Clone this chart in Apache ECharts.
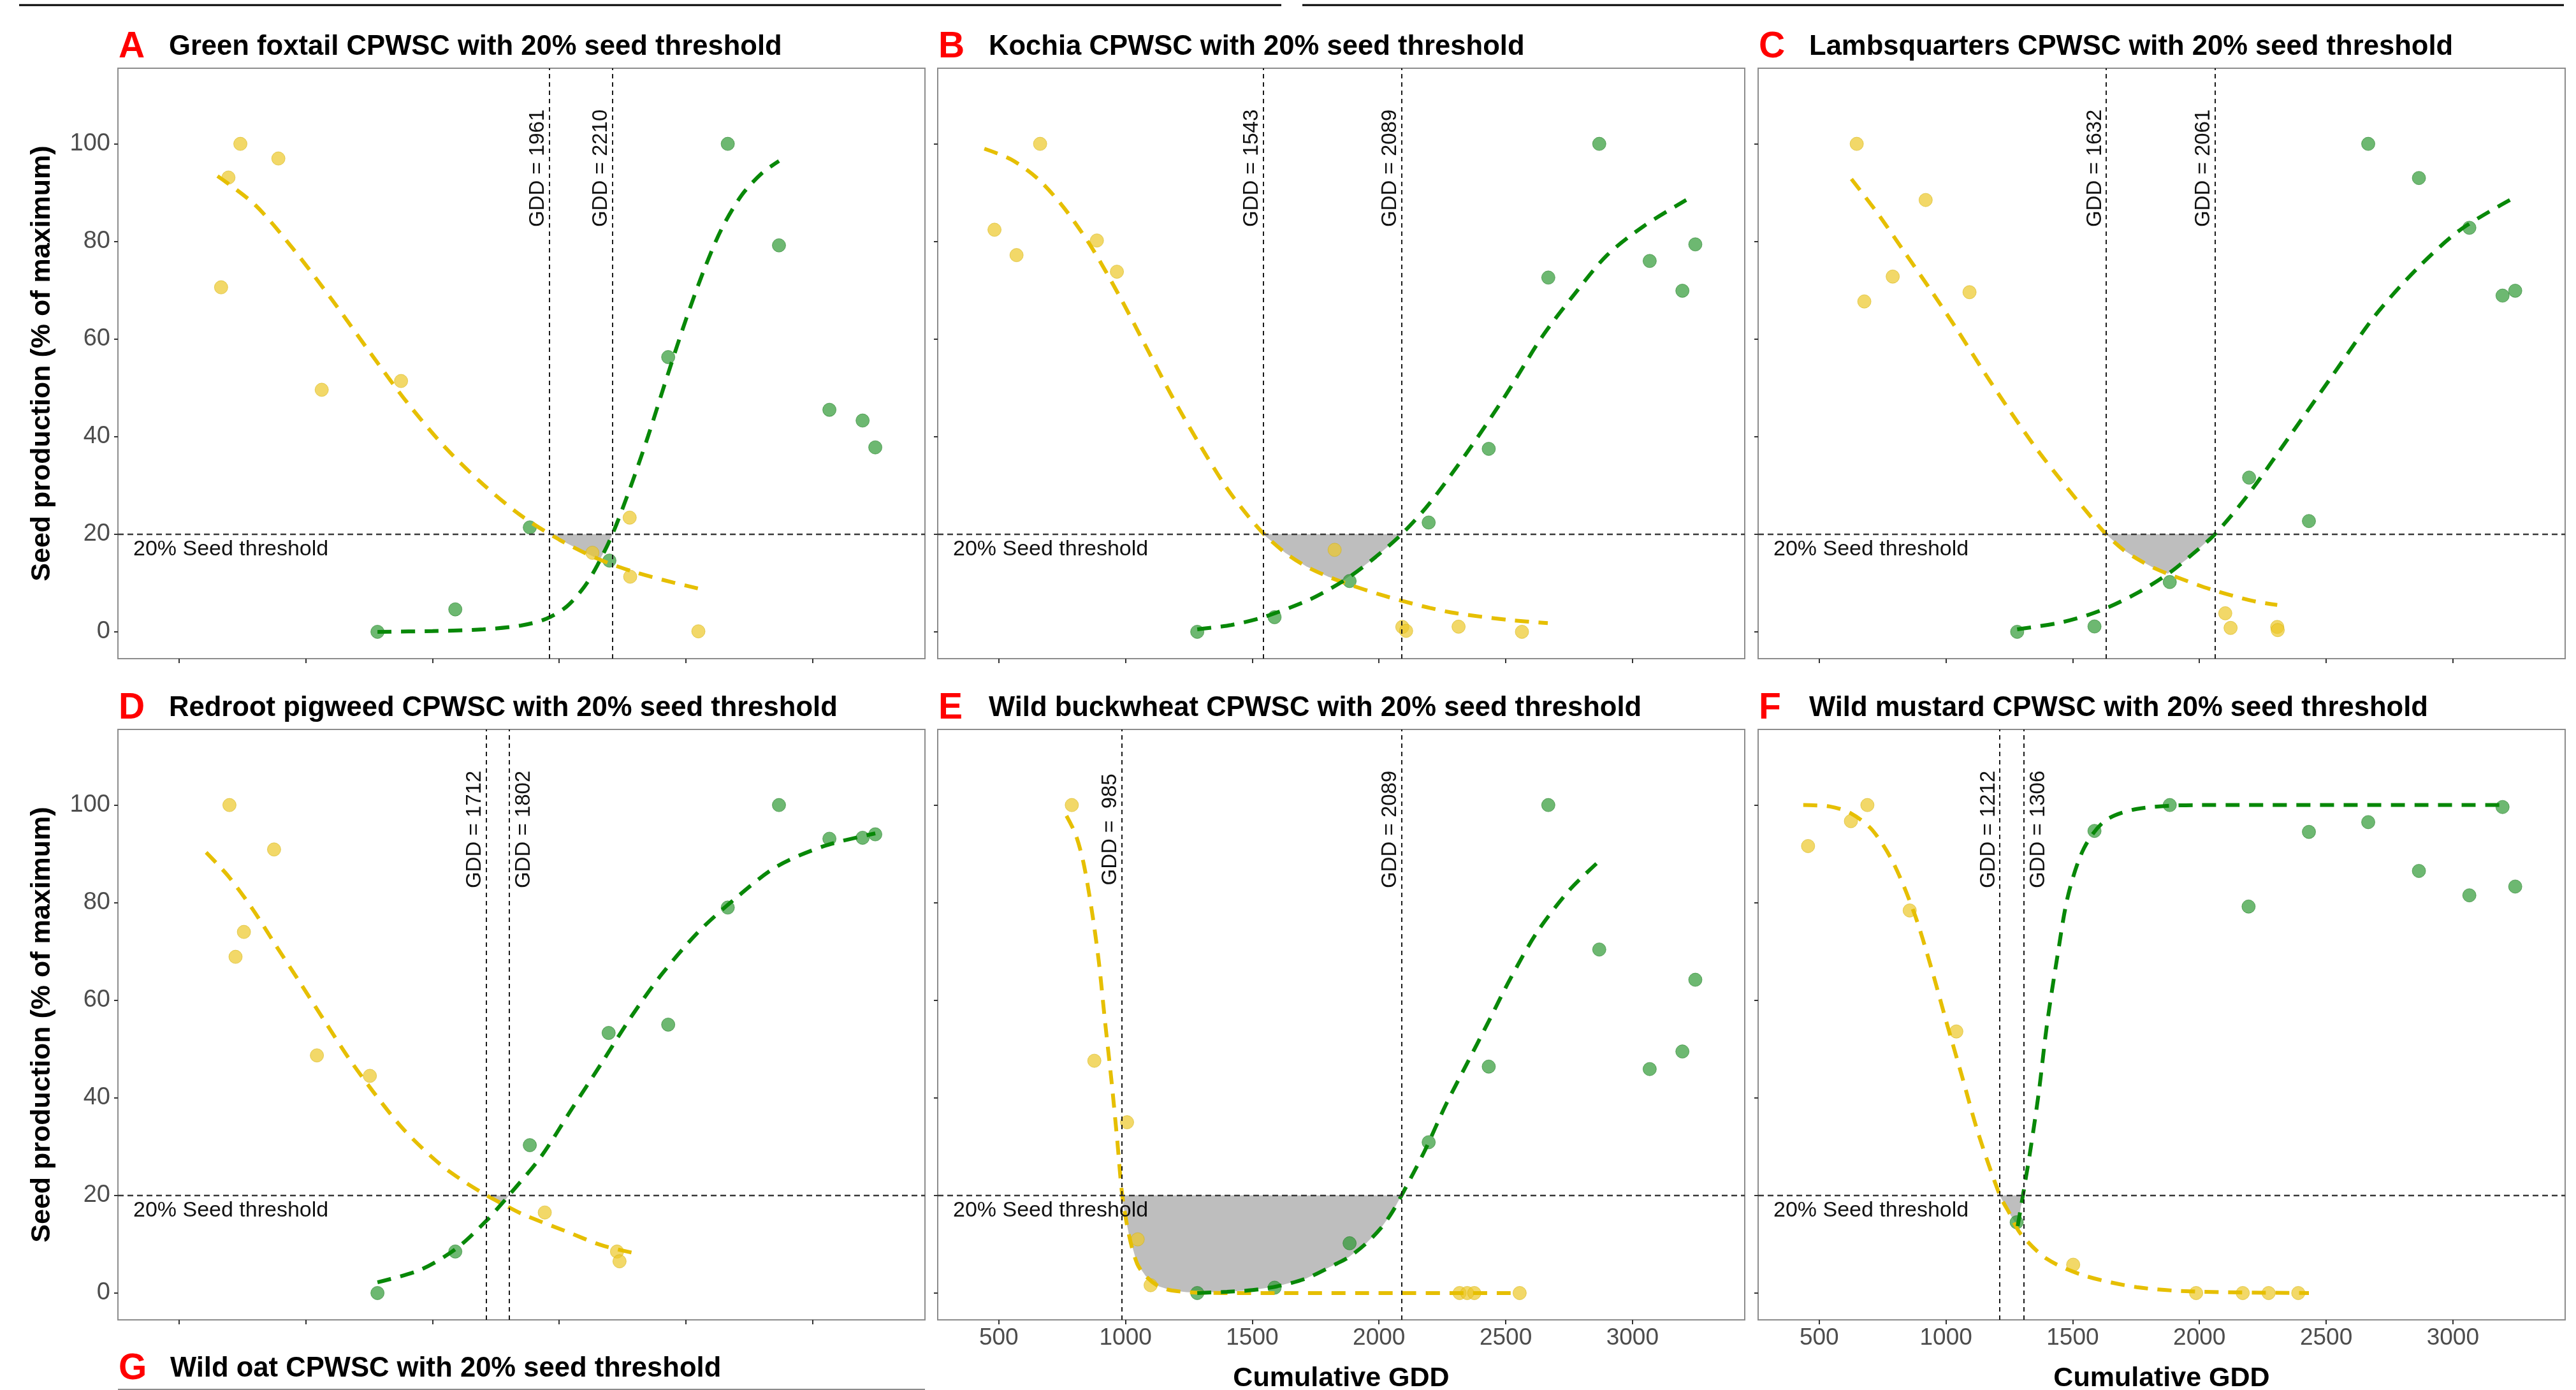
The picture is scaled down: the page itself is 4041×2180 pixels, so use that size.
<!DOCTYPE html>
<html>
<head>
<meta charset="utf-8">
<script src="https://cdn.jsdelivr.net/npm/echarts@6/dist/echarts.min.js"></script>
<style>
  html, body { margin: 0; padding: 0; background: #fff; }
  #chart { width: 4041px; height: 2180px; }
</style>
</head>
<body>
<div id="chart"></div>
<script>
// ---------------- data ----------------
const panelTags = ['A', 'B', 'C', 'D', 'E', 'F'];
const panelTitles = [
  'Green foxtail CPWSC with 20% seed threshold',
  'Kochia CPWSC with 20% seed threshold',
  'Lambsquarters CPWSC with 20% seed threshold',
  'Redroot pigweed CPWSC with 20% seed threshold',
  'Wild buckwheat CPWSC with 20% seed threshold',
  'Wild mustard CPWSC with 20% seed threshold'
];
const extraTag = 'G';
const extraTitle = 'Wild oat CPWSC with 20% seed threshold';

const xTickValues = [500, 1000, 1500, 2000, 2500, 3000];
const yTickValues = [0, 20, 40, 60, 80, 100];
const thresholdValue = 20;
const thresholdText = '20% Seed threshold';
const xAxisTitle = 'Cumulative GDD';
const yAxisTitle = 'Seed production (% of maximum)';

// GDD window limits
const gddA = [1961, 2210];
const gddB = [1543, 2089];
const gddC = [1632, 2061];
const gddD = [1712, 1802];
const gddE = [985, 2089];
const gddF = [1212, 1306];

// observed points
const yellowObsA = [[666,70.6],[695,93.1],[742,100],[892,97.0],[1063,49.6],[1376,51.4],[2131,16.2],[2278,23.4],[2280,11.3],[2549,0.1]];
const greenObsA  = [[1283,0],[1590,4.6],[1884,21.4],[2198,14.6],[2430,56.3],[2665,100],[2867,79.2],[3066,45.5],[3197,43.3],[3247,37.8]];
const yellowObsB = [[483,82.4],[570,77.2],[663,100],[887,80.2],[966,73.8],[1825,16.8],[2092,1.0],[2107,0.2],[2314,1.05],[2564,0]];
const greenObsB  = [[1283,0],[1588,3.0],[1884,10.4],[2196,22.4],[2433,37.5],[2668,72.6],[2869,100],[3068,76.0],[3197,69.9],[3248,79.4]];
const yellowObsC = [[648,100],[678,67.7],[790,72.8],[920,88.5],[1093,69.6],[2102,3.8],[2123,0.8],[2307,1.0],[2309,0.35]];
const greenObsC  = [[1281,0],[1586,1.1],[1883,10.2],[2196,31.6],[2432,22.7],[2666,100],[2866,93.0],[3065,82.8],[3196,68.9],[3246,69.9]];
const yellowObsD = [[699,100],[723,68.9],[756,74.0],[875,90.9],[1044,48.7],[1253,44.5],[1943,16.5],[2228,8.5],[2238,6.5]];
const greenObsD  = [[1283,0],[1590,8.5],[1884,30.3],[2195,53.3],[2430,55.0],[2665,79.0],[2867,100],[3066,93.1],[3197,93.3],[3247,94.0]];
const yellowObsE = [[788,100],[877,47.6],[1006,35.0],[1048,11.0],[1099,1.6],[2318,0],[2348,0],[2376,0],[2555,0]];
const greenObsE  = [[1283,0],[1588,1.1],[1884,10.2],[2196,30.9],[2433,46.4],[2668,100],[2869,70.4],[3068,45.9],[3197,49.5],[3248,64.2]];
const yellowObsF = [[456,91.6],[625,96.7],[690,100],[857,78.4],[1041,53.6],[1502,5.8],[1987,0],[2171,0],[2273,0],[2390,0]];
const greenObsF  = [[1279,14.5],[1586,94.7],[1883,100],[2194,79.2],[2432,94.5],[2666,96.5],[2866,86.5],[3065,81.5],[3196,99.6],[3246,83.3]];

// fitted curves
const yellowFitA = [[652,93.4],[800,87.5],[950,78.5],[1100,68.3],[1250,57.5],[1400,47.0],[1550,37.8],[1700,30.2],[1850,23.8],[2000,18.9],[2150,15.0],[2300,12.2],[2450,10.1],[2547,8.9]];
const greenFitA  = [[1283,0],[1500,0.15],[1700,0.5],[1850,1.3],[1950,2.7],[2030,5.2],[2100,9.3],[2150,13.6],[2210,20],[2280,29.5],[2350,40],[2430,53],[2500,64],[2570,74],[2640,82.5],[2720,89.5],[2800,94],[2867,96.5]];
const yellowFitB = [[443,99],[549,96.8],[655,92.8],[760,86.7],[866,78.8],[972,69.2],[1078,58.7],[1184,48.2],[1290,38.6],[1395,29.8],[1470,24.6],[1543,20.2],[1630,16.2],[1713,13.4],[1800,11.3],[1882,9.7],[2000,7.7],[2094,6.3],[2200,4.9],[2305,3.8],[2517,2.4],[2666,1.8]];
const greenFitB  = [[1283,0.5],[1417,1.4],[1544,3.0],[1713,6.3],[1800,8.6],[1882,11.2],[1988,15.4],[2089,20.0],[2199,26.3],[2348,36.8],[2496,48.2],[2644,60.5],[2771,69.2],[2898,77.1],[3046,83.2],[3212,88.5]];
const yellowFitC = [[627,92.8],[730,85.8],[834,78.0],[939,70.1],[1043,62.0],[1147,53.5],[1252,45.3],[1356,37.6],[1461,30.6],[1565,24.0],[1632,20],[1700,16.8],[1753,15.0],[1820,13.1],[1885,11.7],[2045,8.7],[2213,6.3],[2307,5.5]];
const greenFitC  = [[1281,0.5],[1461,2.0],[1607,4.3],[1753,7.9],[1885,12.2],[1970,15.8],[2061,20],[2192,28.1],[2359,40.3],[2526,52.6],[2693,64.8],[2860,74.5],[3027,82.3],[3225,88.5]];
const yellowFitD = [[607,90.3],[695,85.4],[790,78.7],[885,71.0],[980,63.4],[1075,55.7],[1170,48.1],[1264,41.4],[1383,33.7],[1525,26.6],[1620,23.0],[1711,20.1],[1775,18.3],[1858,16.1],[2024,12.7],[2167,9.8],[2285,8.3]];
const greenFitD  = [[1283,2.2],[1454,4.8],[1596,9.2],[1716,15.0],[1775,18.4],[1803,20.1],[1929,28.0],[2048,37.6],[2167,47.1],[2285,56.7],[2404,65.3],[2547,73.9],[2689,80.6],[2855,87.3],[3045,91.6],[3247,94.2]];
const yellowFitE = [[767,97.8],[803,94.0],[834,88.2],[866,78.7],[894,68.2],[919,55.7],[945,43.3],[968,30.9],[987,20.1],[1014,11.8],[1046,6.0],[1081,3.4],[1130,1.4],[1184,0.5],[1300,0.05],[1395,0],[1925,0],[2555,0]];
const greenFitE  = [[1283,0],[1400,0.25],[1501,0.6],[1600,1.4],[1713,3.0],[1832,6.0],[1882,7.4],[1950,10.2],[2009,13.4],[2050,16.4],[2089,20.0],[2179,29.0],[2263,38.5],[2348,47.1],[2433,55.7],[2517,64.3],[2623,73.9],[2750,82.5],[2862,88.2]];
const yellowFitF = [[437,100],[542,99.7],[625,98.3],[709,94.9],[792,88.2],[876,77.7],[939,67.2],[1001,55.7],[1064,44.3],[1127,32.8],[1212,20.1],[1250,16.4],[1294,12.2],[1398,7.0],[1544,3.6],[1753,1.2],[1983,0.3],[2432,0]];
const greenFitF  = [[1283,13.7],[1304,20.1],[1335,29.9],[1367,41.4],[1398,54.8],[1440,69.1],[1482,81.5],[1544,91.1],[1628,96.8],[1753,99.2],[1983,100],[3196,100]];

// shaded control windows (outline)
const windowA = [[1961,20],[2210,20],[2180,16.7],[2160,14.8],[2100,16.3],[2040,17.9]];
const windowB = [[1543,20],[2089,20],[2040,17.7],[1988,15.4],[1930,13.1],[1853,10.3],[1800,11.3],[1713,13.4],[1630,16.2]];
const windowC = [[1632,20],[2061,20],[2010,17.6],[1950,14.9],[1875,11.9],[1820,13.1],[1753,15.0],[1700,16.8]];
const windowD = [[1712,20],[1802,20],[1775,18.3],[1745,19.2]];
const windowE = [[985,20],[2089,20],[2050,16.4],[2009,13.4],[1950,10.2],[1882,7.4],[1832,6.0],[1713,3.0],[1600,1.4],[1501,0.6],[1400,0.25],[1283,0.05],[1240,0.2],[1184,0.5],[1130,1.4],[1081,3.4],[1046,6.0],[1014,11.8],[1000,15.5]];
const windowF = [[1212,20],[1306,20],[1295,17.5],[1283,13.7],[1250,16.4]];

const gddAll = [gddA, gddB, gddC, gddD, gddE, gddF];
const yellowObsAll = [yellowObsA, yellowObsB, yellowObsC, yellowObsD, yellowObsE, yellowObsF];
const greenObsAll = [greenObsA, greenObsB, greenObsC, greenObsD, greenObsE, greenObsF];
const yellowFitAll = [yellowFitA, yellowFitB, yellowFitC, yellowFitD, yellowFitE, yellowFitF];
const greenFitAll = [greenFitA, greenFitB, greenFitC, greenFitD, greenFitE, greenFitF];
const windowAll = [windowA, windowB, windowC, windowD, windowE, windowF];

// ---------------- layout & style ----------------
const FONT = '"Liberation Sans", Arial, Helvetica, sans-serif';
const X_MIN = 259, X_MAX = 3443, Y_MIN = -5.5, Y_MAX = 115.5;
const GRID_LEFTS = [185, 1471, 2758];
const GRID_TOPS = [107, 1144];
const GRID_W = 1266, GRID_H = 926;
const ROW_TITLE_Y = [74, 1111, 2147];
const LABEL_Y = 95;

const YELLOW_PT = 'rgba(236,200,40,0.7)';
const YELLOW_PT_EDGE = 'rgba(212,176,10,0.55)';
const GREEN_PT = 'rgba(40,150,45,0.68)';
const GREEN_PT_EDGE = 'rgba(25,120,30,0.55)';
const YELLOW_LINE = '#E6BF00';
const GREEN_LINE = '#088808';

const grids = [], xAxes = [], yAxes = [], series = [];
const plainNum = v => String(v);

for (let gi = 0; gi < 6; gi++) {
  const row = Math.floor(gi / 3), col = gi % 3;
  grids.push({
    left: GRID_LEFTS[col], top: GRID_TOPS[row], width: GRID_W, height: GRID_H,
    show: true, borderColor: '#8c8c8c', borderWidth: 2, backgroundColor: 'transparent',
    containLabel: false
  });
  xAxes.push({
    type: 'value', gridIndex: gi, min: X_MIN, max: X_MAX, position: 'bottom',
    axisLine: { show: false, onZero: false }, splitLine: { show: false },
    axisTick: { show: true, inside: false, length: 7, lineStyle: { color: '#333', width: 2 }, customValues: xTickValues },
    axisLabel: { show: gi >= 4, customValues: xTickValues, formatter: plainNum,
      fontSize: 37, fontFamily: FONT, color: '#4d4d4d', margin: 10 }
  });
  yAxes.push({
    type: 'value', gridIndex: gi, min: Y_MIN, max: Y_MAX, position: 'left',
    axisLine: { show: false, onZero: false }, splitLine: { show: false },
    axisTick: { show: true, inside: false, length: 6, lineStyle: { color: '#333', width: 2 }, customValues: yTickValues },
    axisLabel: { show: col === 0, customValues: yTickValues, formatter: plainNum,
      fontSize: 38, fontFamily: FONT, color: '#4d4d4d', margin: 12 }
  });

  const win = windowAll[gi];
  // shaded window
  series.push({
    type: 'custom', xAxisIndex: gi, yAxisIndex: gi, z: 1, silent: true,
    data: [win[0]],
    renderItem: function (params, api) {
      return {
        type: 'polygon',
        shape: { points: win.map(p => api.coord(p)), smooth: 0 },
        style: { fill: '#BEBEBE' }
      };
    }
  });

  const gdd = gddAll[gi];
  // yellow points + reference lines
  series.push({
    type: 'scatter', xAxisIndex: gi, yAxisIndex: gi, z: 2,
    data: yellowObsAll[gi], symbolSize: 21,
    itemStyle: { color: YELLOW_PT, borderColor: YELLOW_PT_EDGE, borderWidth: 1, opacity: 1 },
    markLine: {
      silent: true, symbol: ['none', 'none'], animation: false,
      label: { show: false },
      data: [
        { yAxis: thresholdValue, lineStyle: { type: [9, 6], color: '#3a3a3a', width: 2.4 } },
        { xAxis: gdd[0], lineStyle: { type: [7, 6], color: '#1a1a1a', width: 2 } },
        { xAxis: gdd[1], lineStyle: { type: [7, 6], color: '#1a1a1a', width: 2 } }
      ]
    }
  });
  series.push({
    type: 'scatter', xAxisIndex: gi, yAxisIndex: gi, z: 2,
    data: greenObsAll[gi], symbolSize: 21,
    itemStyle: { color: GREEN_PT, borderColor: GREEN_PT_EDGE, borderWidth: 1, opacity: 1 }
  });
  // fitted curves
  series.push({
    type: 'line', xAxisIndex: gi, yAxisIndex: gi, z: 3,
    data: yellowFitAll[gi], smooth: 0.3, showSymbol: false, symbol: 'none',
    lineStyle: { color: YELLOW_LINE, width: 6, type: [22, 15] }
  });
  series.push({
    type: 'line', xAxisIndex: gi, yAxisIndex: gi, z: 3,
    data: greenFitAll[gi], smooth: 0.3, showSymbol: false, symbol: 'none',
    lineStyle: { color: GREEN_LINE, width: 6, type: [22, 15] }
  });
  // rotated GDD labels
  const close = Math.abs(gdd[1] - gdd[0]) < 200;
  series.push({
    type: 'custom', xAxisIndex: gi, yAxisIndex: gi, z: 5, silent: true,
    data: gdd.map((g, i) => [g, LABEL_Y, i]),
    renderItem: function (params, api) {
      const g = api.value(0), i = api.value(2);
      const p = api.coord([g, api.value(1)]);
      const right = close && i === 1;
      return {
        type: 'text', x: p[0] + (right ? 7 : -1), y: p[1], rotation: Math.PI / 2,
        style: {
          text: 'GDD = ' + String(g).padStart(4, ' '),
          fontSize: 33, fontFamily: FONT, fill: '#111',
          textAlign: 'center', align: 'center',
          textVerticalAlign: right ? 'top' : 'bottom', verticalAlign: right ? 'top' : 'bottom'
        }
      };
    }
  });
  // threshold caption
  series.push({
    type: 'custom', xAxisIndex: gi, yAxisIndex: gi, z: 5, silent: true,
    data: [[X_MIN, thresholdValue]],
    renderItem: function (params, api) {
      const p = api.coord([api.value(0), api.value(1)]);
      return {
        type: 'text', x: p[0] + 24, y: p[1] + 24,
        style: {
          text: thresholdText, fontSize: 34, fontFamily: FONT, fill: '#111',
          textAlign: 'left', align: 'left', textVerticalAlign: 'middle', verticalAlign: 'middle'
        }
      };
    }
  });
}

// ---------------- free text / decorations ----------------
const graphics = [];
function addText(x, y, text, size, weight, color, align, vAlign, rotation) {
  graphics.push({
    type: 'text', x: x, y: y, rotation: rotation || 0, silent: true,
    style: {
      text: text, fontSize: size, fontWeight: weight, fontFamily: FONT, fill: color,
      textAlign: align, align: align, textVerticalAlign: vAlign, verticalAlign: vAlign
    }
  });
}
for (let gi = 0; gi < 6; gi++) {
  const row = Math.floor(gi / 3), col = gi % 3;
  const L = GRID_LEFTS[col];
  addText(L + 1, ROW_TITLE_Y[row], panelTags[gi], 57, 'bold', '#FF0000', 'left', 'middle');
  addText(L + 80, ROW_TITLE_Y[row], panelTitles[gi], 43.6, 'bold', '#000', 'left', 'middle');
}
addText(GRID_LEFTS[0] + 1, ROW_TITLE_Y[2], extraTag, 57, 'bold', '#FF0000', 'left', 'middle');
addText(GRID_LEFTS[0] + 82, ROW_TITLE_Y[2], extraTitle, 43.6, 'bold', '#000', 'left', 'middle');

// axis titles
addText(66, GRID_TOPS[0] + GRID_H / 2, yAxisTitle, 43, 'bold', '#000', 'center', 'middle', Math.PI / 2);
addText(66, GRID_TOPS[1] + GRID_H / 2, yAxisTitle, 43, 'bold', '#000', 'center', 'middle', Math.PI / 2);
addText(GRID_LEFTS[1] + GRID_W / 2, 2162, xAxisTitle, 43, 'bold', '#000', 'center', 'middle');
addText(GRID_LEFTS[2] + GRID_W / 2, 2162, xAxisTitle, 43, 'bold', '#000', 'center', 'middle');

// page rules at the top and the top edge of panel G
graphics.push({ type: 'line', silent: true, shape: { x1: 30, y1: 8, x2: 2010, y2: 8 }, style: { stroke: '#000', lineWidth: 3 } });
graphics.push({ type: 'line', silent: true, shape: { x1: 2043, y1: 8, x2: 4022, y2: 8 }, style: { stroke: '#000', lineWidth: 3 } });
graphics.push({ type: 'line', silent: true, shape: { x1: GRID_LEFTS[0], y1: 2179, x2: GRID_LEFTS[0] + GRID_W, y2: 2179 }, style: { stroke: '#8c8c8c', lineWidth: 2 } });

const chart = echarts.init(document.getElementById('chart'), null, { renderer: 'canvas' });
chart.setOption({
  animation: false,
  backgroundColor: '#ffffff',
  grid: grids,
  xAxis: xAxes,
  yAxis: yAxes,
  series: series,
  graphic: graphics
});
</script>
</body>
</html>
